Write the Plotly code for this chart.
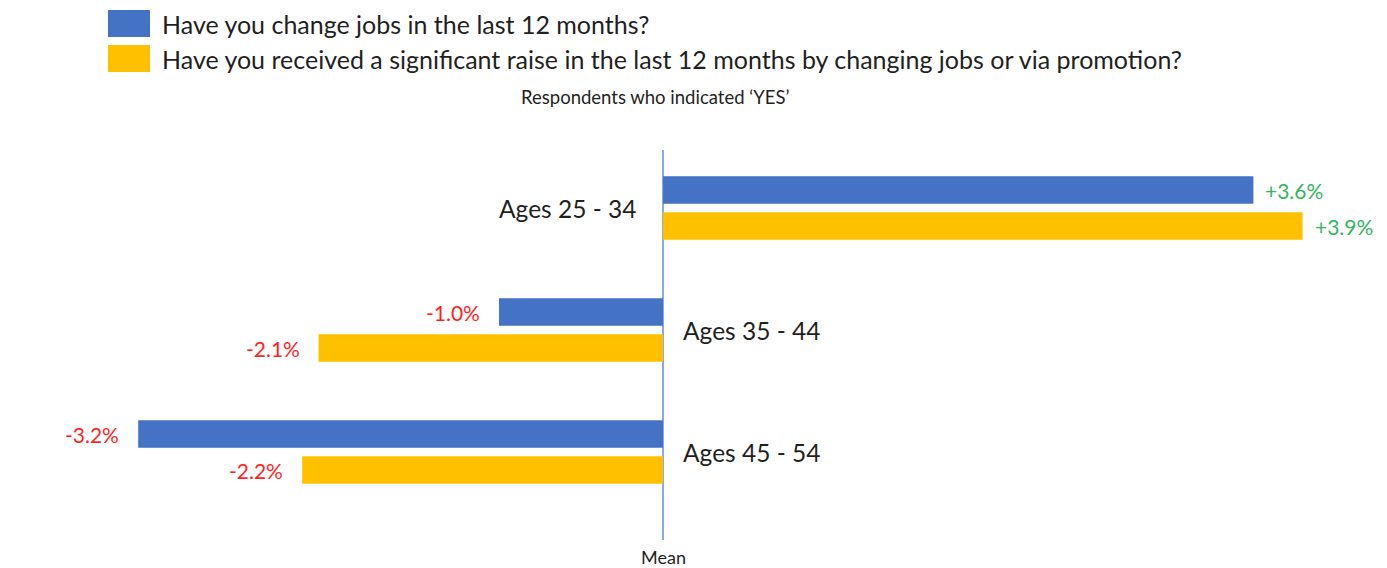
import plotly.graph_objects as go

# Survey data: change vs. mean, in percentage points
age_groups = ["Ages 25 - 34", "Ages 35 - 44", "Ages 45 - 54"]
changed_jobs = [3.6, -1.0, -3.2]
got_raise = [3.9, -2.1, -2.2]

series_names = [
    "Have you change jobs in the last 12 months?",
    "Have you received a significant raise in the last 12 months by changing jobs or via promotion?",
]
series_colors = ["#4472C4", "#FFC000"]
subtitle = "Respondents who indicated \u2018YES\u2019"
axis_caption = "Mean"

POS_COLOR = "#33B55E"
NEG_COLOR = "#FF1F1F"
TEXT_COLOR = "#1f1f1f"
FONT = "Lato"

W, H = 1387, 568
px_per_unit = 164.0
zero_px = 663.0
x_range = [-zero_px / px_per_unit, (W - zero_px) / px_per_unit]

plot_top, plot_bottom = 150.0, 540.0
cat_spacing = 122.0
first_cat_px = 208.0
y_range = [
    (plot_bottom - first_cat_px) / cat_spacing,
    -(first_cat_px - plot_top) / cat_spacing,
]

fig = go.Figure()
for name, vals, col in zip(series_names, [changed_jobs, got_raise], series_colors):
    fig.add_trace(go.Bar(
        y=age_groups, x=vals, orientation="h", name=name,
        marker=dict(color=col, line=dict(width=0)),
        showlegend=False, hoverinfo="x+y",
    ))

annotations = []
# value labels beside each bar
for vals, yshift in [(changed_jobs, 18), (got_raise, -18)]:
    for cat, v in zip(age_groups, vals):
        pos = v >= 0
        annotations.append(dict(
            x=v, y=cat, xref="x", yref="y",
            text=f"{v:+.1f}%", showarrow=False,
            xanchor="left" if pos else "right",
            xshift=10 if pos else -17, yshift=yshift,
            font=dict(family=FONT, size=21, color=POS_COLOR if pos else NEG_COLOR),
        ))

# age-group labels on the opposite side of the mean line
for cat, v in zip(age_groups, changed_jobs):
    pos = v >= 0
    annotations.append(dict(
        x=0, y=cat, xref="x", yref="y", text=cat, showarrow=False,
        xanchor="right" if pos else "left",
        xshift=-25 if pos else 18, yshift=0,
        font=dict(family=FONT, size=24.5, color=TEXT_COLOR),
    ))

# legend entries
legend_rows = [23.5, 58.5]
shapes = []
for name, col, cy in zip(series_names, series_colors, legend_rows):
    shapes.append(dict(
        type="rect", xref="paper", yref="paper",
        x0=108 / W, x1=150 / W, y0=1 - (cy + 13.5) / H, y1=1 - (cy - 13.5) / H,
        fillcolor=col, line=dict(width=0),
    ))
    annotations.append(dict(
        x=160 / W, y=1 - cy / H, xref="paper", yref="paper", text=name,
        showarrow=False, xanchor="left", yanchor="middle",
        font=dict(family=FONT, size=25, color=TEXT_COLOR),
    ))

annotations.append(dict(
    x=655 / W, y=1 - 97 / H, xref="paper", yref="paper", text=subtitle,
    showarrow=False, xanchor="center", yanchor="middle",
    font=dict(family=FONT, size=18.5, color=TEXT_COLOR),
))
annotations.append(dict(
    x=zero_px / W, y=1 - 557 / H, xref="paper", yref="paper", text=axis_caption,
    showarrow=False, xanchor="center", yanchor="middle",
    font=dict(family=FONT, size=18, color=TEXT_COLOR),
))

fig.update_layout(
    width=W, height=H,
    margin=dict(l=0, r=0, t=0, b=0),
    paper_bgcolor="white", plot_bgcolor="white",
    barmode="group", bargap=0.41, bargroupgap=0.24,
    xaxis=dict(range=x_range, domain=[0, 1], showgrid=False, showticklabels=False,
               ticks="", zeroline=True, zerolinecolor="#8EA9DB", zerolinewidth=1.5,
               showline=False, fixedrange=True),
    yaxis=dict(range=y_range, domain=[1 - plot_bottom / H, 1 - plot_top / H],
               showgrid=False, showticklabels=False, ticks="", zeroline=False,
               showline=False, fixedrange=True),
    shapes=shapes, annotations=annotations,
    font=dict(family=FONT),
)

fig.write_html("out.html")
